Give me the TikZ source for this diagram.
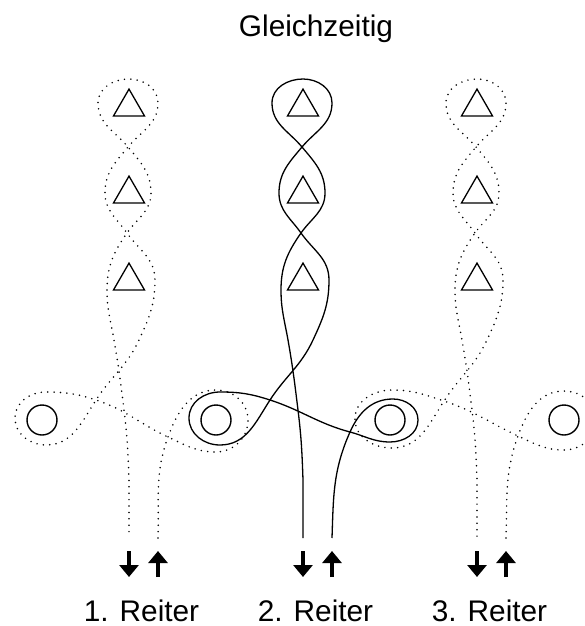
\documentclass[tikz,border=0pt]{standalone}
\usepackage{fontspec}
\setmainfont{Liberation Sans}
\usetikzlibrary{arrows.meta,shapes.geometric}
\begin{document}
\begin{tikzpicture}[x=1pt,y=1pt,
  dotline/.style={line width=1.7pt,line cap=round,dash pattern=on 0pt off 6.4pt},
  solidline/.style={line width=1.3pt},
  ring/.style={circle,draw,line width=1.4pt,minimum size=30pt,inner sep=0pt,outer sep=0pt},
  cone/.style={regular polygon,regular polygon sides=3,draw,line width=1.3pt,minimum size=35.8pt,inner sep=0pt,outer sep=0pt},
  dirarrow/.style={line width=4.4pt,-{Triangle[length=12pt,width=19pt]}},
  lbl/.style={font=\fontsize{29.8}{34}\selectfont,inner sep=0pt,anchor=base}]
\useasboundingbox (0,0) rectangle (584,-626);
\fill[white] (0,0) rectangle (584,-626);
\clip (0,0) rectangle (584,-626);

% title and labels
\node[lbl] (title) at (316,-37) {Gleichzeitig};
\node[lbl] (lab1) at (141.5,-621) {1. Reiter};
\node[lbl] (lab2) at (315.5,-621) {2. Reiter};
\node[lbl] (lab3) at (489.5,-621) {3. Reiter};

% circles
\node[ring] (c1) at (42,-420) {};
\node[ring] (c2) at (216,-420) {};
\node[ring] (c3) at (390,-420) {};
\node[ring] (c4) at (564,-420) {};

% triangles
\foreach \c/\n in {129/a,303/b,477/c}{
  \node[cone] (\n1) at (\c,-107) {};
  \node[cone] (\n2) at (\c,-194) {};
  \node[cone] (\n3) at (\c,-281) {};
}

% arrows
\foreach \c/\n in {129/1,303/2,477/3}{
  \coordinate (dn\n s) at (\c,-551);
  \coordinate (dn\n e) at (\c,-577);
  \coordinate (up\n s) at (\c+29,-577);
  \coordinate (up\n e) at (\c+29,-551);
  \draw[dirarrow] (dn\n s) -- (dn\n e);
  \draw[dirarrow] (up\n s) -- (up\n e);
}

% rider 1 (dotted)
\begin{scope}[xshift=129pt]
\draw[dotline] (29,-538) to[out=88,in=250] (39,-437)
 to[out=70,in=180] (87,-390) to[out=0,in=90] (119,-420) to[out=270,in=0] (87,-452) to[out=180,in=-25] (39,-437)
 to[out=155,in=-18] (-33,-400)
 to[out=162,in=0] (-83,-392) to[out=180,in=90] (-114,-418) to[out=270,in=180] (-83,-445) to[out=0,in=237] (-33,-400)
 to[out=57,in=245] (10,-340) to[out=65,in=270] (26,-280) to[out=90,in=-55] (-2,-233) to[out=125,in=270] (-24,-193)
 to[out=90,in=230] (-1,-147) to[out=50,in=270] (29,-103) to[out=90,in=0] (0,-79) to[out=180,in=90] (-31,-103)
 to[out=270,in=130] (-1,-147) to[out=-50,in=90] (22,-193) to[out=270,in=55] (-2,-233) to[out=235,in=90] (-22,-290)
 to[out=270,in=100] (-15,-340) to[out=280,in=97] (-5,-410) to[out=-83,in=92] (0,-480) -- (0,-538);
\end{scope}

% rider 3 (dotted)
\begin{scope}[xshift=477pt]
\draw[dotline] (29,-538) to[out=88,in=250] (41,-436)
 to[out=70,in=180] (87,-391) to[out=0,in=90] (119,-420) to[out=270,in=0] (87,-450) to[out=180,in=-25] (41,-436)
 to[out=155,in=-18] (-33,-401)
 to[out=162,in=0] (-85,-390) to[out=180,in=90] (-122,-419) to[out=270,in=180] (-85,-448) to[out=0,in=237] (-33,-401)
 to[out=57,in=245] (10,-340) to[out=65,in=270] (26,-280) to[out=90,in=-55] (-2,-233) to[out=125,in=270] (-24,-193)
 to[out=90,in=230] (-1,-147) to[out=50,in=270] (29,-103) to[out=90,in=0] (0,-79) to[out=180,in=90] (-31,-103)
 to[out=270,in=130] (-1,-147) to[out=-50,in=90] (22,-193) to[out=270,in=55] (-2,-233) to[out=235,in=90] (-22,-290)
 to[out=270,in=100] (-15,-340) to[out=280,in=97] (-5,-410) to[out=-83,in=92] (0,-480) -- (0,-538);
\end{scope}

% rider 2 (solid)
\begin{scope}[xshift=303pt]
\draw[solidline] (29,-538) to[out=88,in=246] (47,-432)
 to[out=66,in=180] (90,-399) to[out=0,in=90] (115,-420) to[out=270,in=0] (87,-442) to[out=180,in=-15] (47,-432)
 to[out=165,in=-18] (-33,-400)
 to[out=162,in=0] (-83,-392) to[out=180,in=90] (-114,-418) to[out=270,in=180] (-83,-445) to[out=0,in=237] (-33,-400)
 to[out=57,in=245] (10,-340) to[out=65,in=270] (26,-280) to[out=90,in=-55] (-2,-233) to[out=125,in=270] (-24,-193)
 to[out=90,in=230] (-1,-147) to[out=50,in=270] (29,-103) to[out=90,in=0] (0,-79) to[out=180,in=90] (-31,-103)
 to[out=270,in=130] (-1,-147) to[out=-50,in=90] (22,-193) to[out=270,in=55] (-2,-233) to[out=235,in=90] (-22,-290)
 to[out=270,in=100] (-15,-340) to[out=280,in=97] (-5,-410) to[out=-83,in=92] (0,-480) -- (0,-538);
\end{scope}
\end{tikzpicture}
\end{document}
